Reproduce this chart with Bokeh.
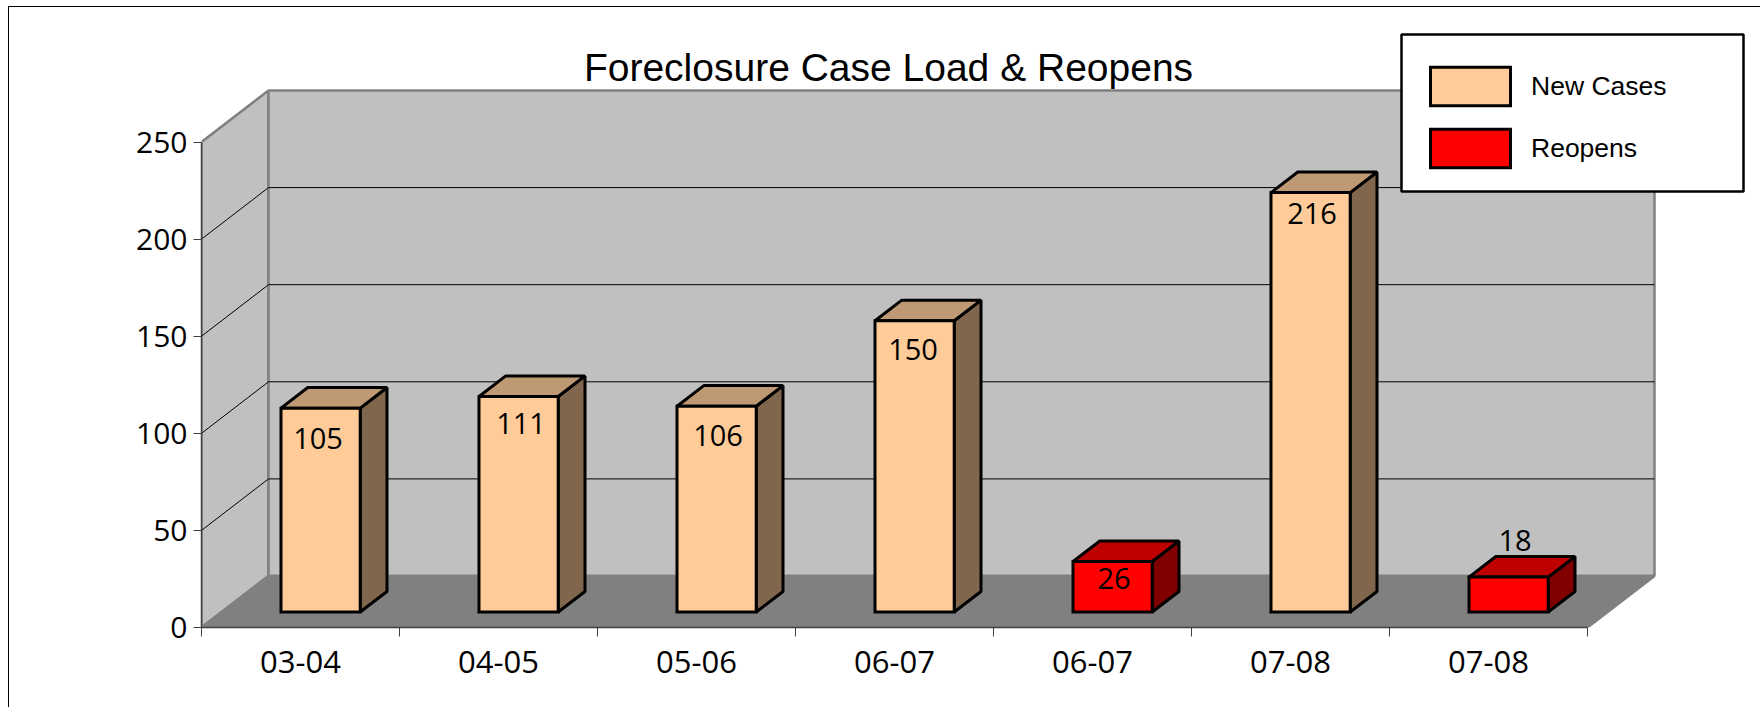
from bokeh.embed import file_html
from bokeh.resources import INLINE
from bokeh.core.properties import value
from bokeh.models import (BoxAnnotation, FixedTicker, Label, Legend, LegendItem, LinearAxis, Range1d)
from bokeh.plotting import figure

title = "Foreclosure Case Load & Reopens"
categories = ["03-04", "04-05", "05-06", "06-07", "06-07", "07-08", "07-08"]
new_cases = [105, 111, 106, 150, None, 216, None]
reopens = [None, None, None, None, 26, None, 18]
y_ticks = [0, 50, 100, 150, 200, 250]

# styling / projection
TXT = "Open Sans"
PX_X, PX_Y = 198.0, 1.942
DX, DY = 67 / PX_X, 51.5 / PX_Y     # full floor depth in data units
BAR = 0.4
D0, D1 = 0.3, 0.7
FRAME_LEFT, FRAME_TOP, FRAME_BOTTOM, FRAME_RIGHT = 201, 8, 627, 1750
FIG_LEFT, FIG_TOP = 9, 7            # canvas origin, just inside the 1px border
FIG_W, FIG_H = 1760 - FIG_LEFT, 707 - FIG_TOP
n = len(categories)
ymax = y_ticks[-1]

p = figure(width=FIG_W, height=FIG_H, output_backend="svg", toolbar_location=None,
           x_axis_type=None, y_axis_type=None,
           x_range=Range1d(0, (FRAME_RIGHT - FRAME_LEFT) / PX_X),
           y_range=Range1d(0, (FRAME_BOTTOM - FRAME_TOP) / PX_Y),
           frame_width=FRAME_RIGHT - FRAME_LEFT, frame_height=FRAME_BOTTOM - FRAME_TOP,
           min_border_left=FRAME_LEFT - FIG_LEFT, min_border_top=FRAME_TOP - FIG_TOP,
           min_border_right=1760 - FRAME_RIGHT, min_border_bottom=707 - FRAME_BOTTOM,
           outline_line_color=None, background_fill_color=None,
           styles={"margin-top": f"{FIG_TOP - 1}px", "margin-left": f"{FIG_LEFT - 1}px",
                   "border-top": "1px solid #000", "border-left": "1px solid #000"})
p.grid.visible = False

WALL, FLOOR = "#C0C0C0", "#808080"
# left wall, back wall, floor
p.patches([[0, 0, DX, DX], [DX, DX, n + DX, n + DX], [0, n, n + DX, DX]],
          [[0, ymax, ymax + DY, DY], [DY, ymax + DY, ymax + DY, DY], [0, 0, DY, DY]],
          fill_color=[WALL, WALL, FLOOR], line_color=FLOOR, line_width=2.5)
# grid lines
gv = y_ticks[1:-1]
p.multi_line([[0, DX, n + DX] for v in gv], [[v, v + DY, v + DY] for v in gv],
             line_color="#000000", line_width=1)


def bars(values, face, top, side):
    idx = [i for i, v in enumerate(values) if v is not None]
    lefts = [i + 0.5 - BAR / 2 + D0 * DX for i in idx]
    rights = [l + BAR for l in lefts]
    base = D0 * DY
    tops = [values[i] + base for i in idx]
    ddx, ddy = (D1 - D0) * DX, (D1 - D0) * DY
    style = dict(line_color="#000000", line_width=3, line_join="bevel")
    p.patches([[r, r, r + ddx, r + ddx] for r in rights],
              [[base, t, t + ddy, base + ddy] for t in tops], fill_color=side, **style)
    p.patches([[l, r, r + ddx, l + ddx] for l, r in zip(lefts, rights)],
              [[t, t, t + ddy, t + ddy] for t in tops], fill_color=top, **style)
    return p.quad(left=lefts, right=rights, bottom=base, top=tops, fill_color=face,
                  line_color="#000000", line_width=3, line_join="miter")


r_new = bars(new_cases, "#FFCC99", "#BF9973", "#80664D")
r_re = bars(reopens, "#FF0000", "#BF0000", "#800000")

# data labels (screen offset from the bar's front top edge)
label_dy = [-30, -27, -29, -29, -17, -21, 37]
label_dx = [-1, 4, 3, 0, 3, 3, 8]
values = [a if a is not None else b for a, b in zip(new_cases, reopens)]
for i, v in enumerate(values):
    p.text([i + 0.5 + D0 * DX - 0.008], [v + D0 * DY], text=[str(v)],
           x_offset=label_dx[i], y_offset=-label_dy[i],
           text_font=value(TXT), text_font_size="29px", text_color="#000000",
           text_align="center", text_baseline="middle")

# title
p.add_layout(Label(x=(888 - FRAME_LEFT) / PX_X, y=(FRAME_BOTTOM - 67) / PX_Y, text=title,
                   text_font="Liberation Sans", text_font_size="39px", text_color="#000000",
                   text_align="center", text_baseline="middle"))

# axes
yax = LinearAxis(ticker=FixedTicker(ticks=y_ticks), bounds=(0, ymax))
yax.axis_line_color = "#404040"
yax.axis_line_width = 1.5
yax.major_tick_line_color = "#404040"
yax.major_tick_out = 8
yax.major_tick_in = 0
yax.minor_tick_line_color = None
yax.major_label_standoff = 6
yax.major_label_text_font = TXT
yax.major_label_text_font_size = "30px"
yax.major_label_text_color = "#000000"
p.add_layout(yax, "left")

xax = LinearAxis(ticker=FixedTicker(ticks=[i + 0.5 for i in range(n)], minor_ticks=list(range(n + 1))),
                 bounds=(0, n))
xax.major_label_overrides = {i + 0.5: c for i, c in enumerate(categories)}
xax.axis_line_color = "#404040"
xax.axis_line_width = 1.5
xax.major_tick_line_color = None
xax.major_tick_out = 0
xax.major_tick_in = 0
xax.minor_tick_line_color = "#404040"
xax.minor_tick_out = 9
xax.minor_tick_in = 0
xax.major_label_standoff = 14
xax.major_label_text_font = TXT
xax.major_label_text_font_size = "31px"
xax.major_label_text_color = "#000000"
p.add_layout(xax, "below")

# legend box + legend
box = BoxAnnotation(left=1400 - FIG_LEFT, right=1742 - FIG_LEFT, top=33 - FIG_TOP, bottom=190 - FIG_TOP,
                    left_units="canvas", right_units="canvas", top_units="canvas", bottom_units="canvas",
                    fill_color="#FFFFFF", fill_alpha=1, line_color="#000000", line_alpha=1, line_width=2.5)
p.add_layout(box)
legend = Legend(items=[LegendItem(label="New Cases", renderers=[r_new]),
                       LegendItem(label="Reopens", renderers=[r_re])],
                location=(1420 - FRAME_LEFT, FRAME_BOTTOM - 172),
                padding=0, margin=0, spacing=14, glyph_width=100, glyph_height=48,
                label_standoff=11, label_text_font="Liberation Sans", label_text_font_size="26.5px",
                label_text_color="#000000", border_line_color=None, background_fill_alpha=0)
p.add_layout(legend)

open("out.html", "w").write(file_html(p, INLINE))
